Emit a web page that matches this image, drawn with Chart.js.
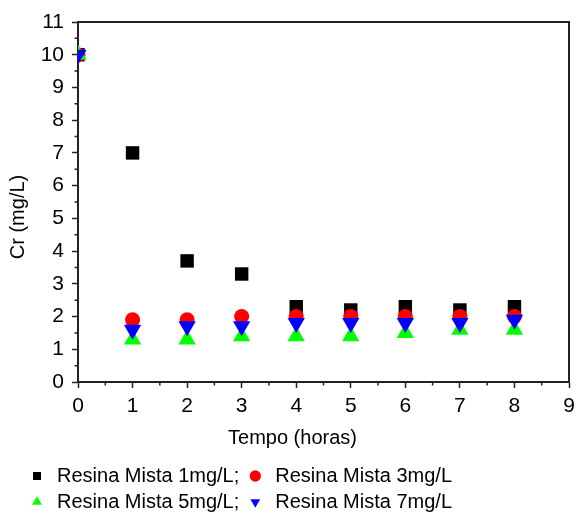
<!DOCTYPE html>
<html>
<head>
<meta charset="utf-8">
<script src="https://cdn.jsdelivr.net/npm/chart.js@4/dist/chart.umd.min.js"></script>
<style>
  html, body { margin: 0; padding: 0; background: #fff; }
  #caixa { width: 579px; height: 513px; }
</style>
</head>
<body>
<div id="caixa"><canvas id="grafico"></canvas></div>
<script>
// dados
const tempo = [0, 1, 2, 3, 4, 5, 6, 7, 8];
const resina1 = [10, 7.0, 3.7, 3.3, 2.3, 2.2, 2.3, 2.2, 2.3];
const resina3 = [10, 1.9, 1.9, 2.0, 2.0, 2.0, 2.0, 2.0, 2.0];
const resina5 = [10, 1.3, 1.3, 1.4, 1.4, 1.4, 1.5, 1.6, 1.6];
const resina7 = [10, 1.6, 1.7, 1.7, 1.8, 1.8, 1.8, 1.8, 1.9];
const rotulos = ['Resina Mista 1mg/L;', 'Resina Mista 3mg/L', 'Resina Mista 5mg/L;', 'Resina Mista 7mg/L'];
const ticksX = [0, 1, 2, 3, 4, 5, 6, 7, 8, 9];
const ticksY = [0, 1, 2, 3, 4, 5, 6, 7, 8, 9, 10, 11];
const tituloX = 'Tempo (horas)';
const tituloY = 'Cr (mg/L)';

const fonte = '"Liberation Sans", Arial, sans-serif';
const corEixo = '#222';

function pontos(valores) {
  return tempo.map((t, i) => ({ x: t, y: valores[i] }));
}

function serie(label, valores, cor, estilo, raio, rot, ordem) {
  return {
    label: label,
    data: pontos(valores),
    pointStyle: estilo,
    pointRadius: raio,
    pointHoverRadius: raio,
    pointRotation: rot,
    backgroundColor: cor,
    borderColor: cor,
    pointBackgroundColor: cor,
    pointBorderColor: cor,
    borderWidth: 0,
    pointBorderWidth: 0,
    showLine: false,
    order: ordem
  };
}

// moldura, ticks menores e titulos dos eixos
const extras = {
  id: 'extras',
  afterLayout(chart) {
    chart.legend.left += 21;
    chart.legend.top += 9;
  },
  afterDraw(chart) {
    const ctx = chart.ctx;
    const ca = chart.chartArea;
    const sx = chart.scales.x;
    const sy = chart.scales.y;
    ctx.save();
    ctx.strokeStyle = corEixo;
    ctx.lineWidth = 2;
    ctx.beginPath();
    ctx.moveTo(ca.left, ca.top);
    ctx.lineTo(ca.right, ca.top);
    ctx.lineTo(ca.right, ca.bottom);
    ctx.stroke();

    ctx.lineWidth = 1.5;
    ctx.beginPath();
    for (let v = 0.5; v < ticksX[ticksX.length - 1]; v += 1) {
      const px = sx.getPixelForValue(v);
      ctx.moveTo(px, ca.bottom);
      ctx.lineTo(px, ca.bottom + 3.5);
    }
    for (let v = 0.5; v < ticksY[ticksY.length - 1]; v += 1) {
      const py = sy.getPixelForValue(v);
      ctx.moveTo(ca.left, py);
      ctx.lineTo(ca.left - 3.5, py);
    }
    ctx.stroke();

    ctx.fillStyle = '#000';
    ctx.font = '20px ' + fonte;
    ctx.textAlign = 'center';
    ctx.textBaseline = 'middle';
    ctx.fillText(tituloX, (ca.left + ca.right) / 2 - 31, ca.bottom + 56);
    ctx.translate(18, (ca.top + ca.bottom) / 2 + 15);
    ctx.rotate(-Math.PI / 2);
    ctx.fillText(tituloY, 0, 0);
    ctx.restore();
  }
};

new Chart(document.getElementById('grafico'), {
  type: 'scatter',
  data: {
    datasets: [
      serie(rotulos[0], resina1, '#000000', 'rect', 9.5, 0, 4),
      serie(rotulos[1], resina3, '#ff0000', 'circle', 7.5, 0, 3),
      serie(rotulos[2], resina5, '#00ff00', 'triangle', 10, 0, 2),
      serie(rotulos[3], resina7, '#0000ff', 'triangle', 10, 180, 1)
    ]
  },
  options: {
    responsive: true,
    maintainAspectRatio: false,
    animation: false,
    devicePixelRatio: 1,
    layout: { padding: { top: 22, right: 7, left: 0, bottom: 0 } },
    plugins: {
      tooltip: { enabled: false },
      legend: {
        position: 'bottom',
        align: 'start',
        labels: {
          usePointStyle: true,
          boxWidth: 20,
          boxHeight: 8,
          padding: 6,
          color: '#000',
          font: { family: fonte, size: 20 },
          sort: (a, b) => a.datasetIndex - b.datasetIndex
        }
      }
    },
    scales: {
      x: {
        type: 'linear',
        min: ticksX[0],
        max: ticksX[ticksX.length - 1],
        afterFit: s => { s.height = 69; s.paddingRight = 0; s.paddingLeft = 0; },
        ticks: { stepSize: 1, padding: 6, color: '#000', font: { family: fonte, size: 21 } },
        grid: { drawOnChartArea: false, tickLength: 6, tickWidth: 1.5, tickColor: corEixo },
        border: { color: corEixo, width: 2 }
      },
      y: {
        type: 'linear',
        min: ticksY[0],
        max: ticksY[ticksY.length - 1],
        afterFit: s => { s.width = 78; },
        ticks: { stepSize: 1, padding: 8, color: '#000', font: { family: fonte, size: 21 } },
        grid: { drawOnChartArea: false, tickLength: 6, tickWidth: 1.5, tickColor: corEixo },
        border: { color: corEixo, width: 2 }
      }
    }
  },
  plugins: [extras]
});
</script>
</body>
</html>
